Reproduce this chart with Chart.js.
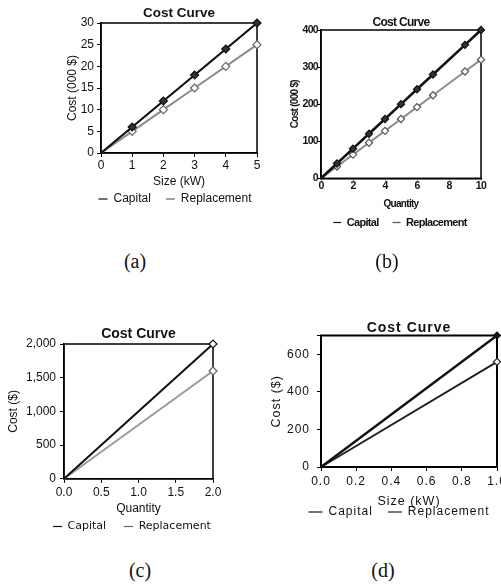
<!DOCTYPE html>
<html>
<head>
<meta charset="utf-8">
<script src="https://cdn.jsdelivr.net/npm/chart.js@4.4.1/dist/chart.umd.min.js"></script>
<style>
  body { margin: 0; background: #fff; }
  #page { position: relative; width: 501px; height: 586px; overflow: hidden; background: #fff; }
  canvas { position: absolute; }
  .cap { position: absolute; width: 40px; text-align: center; font-family: "Liberation Serif", "Times New Roman", serif; font-size: 20px; line-height: 20px; color: #111; }
</style>
</head>
<body>
<div id="page">
  <canvas id="chartA" width="270" height="215" style="left:40px;top:0px"></canvas>
  <canvas id="chartB" width="230" height="238" style="left:285px;top:0px"></canvas>
  <canvas id="chartC" width="264" height="222" style="left:0px;top:320px"></canvas>
  <canvas id="chartD" width="274" height="208" style="left:262px;top:320px"></canvas>
  <div class="cap" style="left:115px;top:251px">(a)</div>
  <div class="cap" style="left:367px;top:251px">(b)</div>
  <div class="cap" style="left:120px;top:560px">(c)</div>
  <div class="cap" style="left:363px;top:560px">(d)</div>
</div>
<script>
//Chart values
const sizeA = [0, 1, 2, 3, 4, 5];
const capitalA = [0, 6, 12, 18, 24, 30];
const replacementA = [0, 5, 10, 15, 20, 25];

const quantityB = [0, 1, 2, 3, 4, 5, 6, 7, 9, 10];
const capitalB = [0, 40, 80, 120, 160, 200, 240, 280, 360, 400];
const replacementB = [0, 32, 64, 96, 128, 160, 192, 224, 288, 320];

const quantityC = [0, 2];
const capitalC = [0, 2000];
const replacementC = [0, 1600];

const sizeD = [0, 1];
const capitalD = [0, 700];
const replacementD = [0, 560];

const chartTitle = 'Cost Curve';
const seriesNames = ['Capital', 'Replacement'];

const arial = '"Liberation Sans", Arial, sans-serif';
const wide = '"DejaVu Sans", Verdana, sans-serif';

//Draws the closed box round the plot area
const frameBox = {
    id: 'frameBox',
    beforeDatasetsDraw(chart, args, opts) {
        const a = chart.chartArea;
        const c = chart.ctx;
        c.save();
        c.strokeStyle = opts.color || '#000';
        c.lineWidth = opts.width || 1.5;
        c.strokeRect(a.left, a.top, a.right - a.left, a.bottom - a.top);
        c.restore();
    }
};

//Squeezes or spreads the letters, the scans use narrow and spaced faces
const letterGap = {
    id: 'letterGap',
    beforeLayout(chart, args, opts) { chart.ctx.letterSpacing = (opts.px || 0) + 'px'; },
    beforeDraw(chart, args, opts) { chart.ctx.letterSpacing = (opts.px || 0) + 'px'; }
};

//Builds one "Cost Curve" chart
function costChart(canvasId, xs, capital, replacement, s) {
    const points = ys => xs.map((x, i) => ({ x: x, y: ys[i] }));
    const radius = xs.map(x => (x === 0 ? 0 : s.marker));

    const config = {
        type: 'line',
        data: {
            datasets: [
                {
                    label: seriesNames[0],
                    data: points(capital),
                    borderColor: s.capColor,
                    borderWidth: s.capWidth,
                    pointStyle: 'rectRot',
                    pointRadius: radius,
                    pointBackgroundColor: s.capFill,
                    pointBorderColor: s.capColor,
                    pointBorderWidth: 1.2,
                    clip: false
                },
                {
                    label: seriesNames[1],
                    data: points(replacement),
                    borderColor: s.repColor,
                    borderWidth: s.repWidth,
                    pointStyle: 'rectRot',
                    pointRadius: radius,
                    pointBackgroundColor: '#fff',
                    pointBorderColor: s.repMarker,
                    pointBorderWidth: 1.2,
                    clip: false
                }
            ]
        },
        options: {
            responsive: false,
            animation: false,
            layout: { padding: 0 },
            plugins: {
                frameBox: { color: '#000', width: s.frame },
                letterGap: { px: s.spacing },
                tooltip: { enabled: false },
                title: {
                    display: true,
                    fullSize: false,
                    text: chartTitle,
                    color: '#111',
                    font: { family: s.family, size: s.titleSize, weight: 'bold', lineHeight: s.titleLH },
                    padding: { top: s.titleTop, bottom: s.titleBottom }
                },
                legend: {
                    position: 'bottom',
                    labels: {
                        usePointStyle: true,
                        pointStyle: 'line',
                        pointStyleWidth: s.legendLine,
                        padding: s.legendPad,
                        color: '#111',
                        font: { family: s.legendFamily || s.family, size: s.legendSize, weight: s.weight }
                    }
                }
            },
            scales: {
                x: {
                    type: 'linear',
                    min: xs[0],
                    max: xs[xs.length - 1],
                    //fixed band height, and the free room right of the plot
                    afterFit(scale) { scale.height = s.xAxisH; scale.paddingLeft = 0; scale.paddingRight = s.padRight; },
                    grid: { drawOnChartArea: false, drawTicks: true, tickLength: s.xTick, color: '#000' },
                    border: { color: '#000', width: s.frame },
                    ticks: {
                        stepSize: s.xStep,
                        padding: s.xTickPad,
                        maxRotation: 0,
                        color: '#111',
                        font: { family: s.family, size: s.tickSize, weight: s.weight, lineHeight: s.tickLH },
                        callback: v => (s.xFixed ? v.toFixed(s.xFixed) : v)
                    },
                    title: {
                        display: true,
                        text: s.xTitle,
                        color: '#111',
                        font: { family: s.family, size: s.axisSize, weight: s.weight, lineHeight: s.axisLH },
                        padding: { top: 0, bottom: s.xTitleBottom }
                    }
                },
                y: {
                    min: 0,
                    max: s.yMax,
                    afterFit(scale) { scale.width = s.yAxisW; scale.paddingTop = 0; scale.paddingBottom = 0; },
                    grid: { drawOnChartArea: false, drawTicks: true, tickLength: s.yTick, color: '#000' },
                    border: { color: '#000', width: s.frame },
                    ticks: {
                        stepSize: s.yStep,
                        padding: s.yTickPad,
                        color: '#111',
                        font: { family: s.family, size: s.tickSize, weight: s.weight },
                        callback: v => (v % s.yStep === 0 ? v.toLocaleString('en-US') : '')
                    },
                    title: {
                        display: true,
                        text: s.yTitle,
                        color: '#111',
                        font: { family: s.family, size: s.axisSize, weight: s.weight },
                        padding: { top: s.yTitlePad, bottom: 0 }
                    }
                }
            }
        },
        plugins: [letterGap, frameBox]
    };

    new Chart(document.getElementById(canvasId).getContext('2d'), config);
}

//(a)
costChart('chartA', sizeA, capitalA, replacementA, {
    capColor: '#111', capFill: '#333', capWidth: 2.2, repColor: '#8c8c8c', repMarker: '#666', repWidth: 2, marker: 4, frame: 1.5,
    padRight: 53, yAxisW: 61, xAxisH: 25, family: arial, weight: 'normal', spacing: 0,
    titleSize: 13.5, titleLH: 1.2, titleTop: 5, titleBottom: 1.8,
    legendSize: 12, legendPad: 15, legendLine: 9,
    tickSize: 12, tickLH: 1.2, axisSize: 12, axisLH: 1.2,
    xStep: 1, xTick: 4, xTickPad: 1.5, xFixed: 0, xTitle: 'Size (kW)', xTitleBottom: -10.9,
    yMax: 30, yStep: 5, yTick: 4, yTickPad: 3, yTitle: 'Cost (000 $)', yTitlePad: 25.5
});

//(b)
costChart('chartB', quantityB, capitalB, replacementB, {
    capColor: '#111', capFill: '#333', capWidth: 2.6, repColor: '#8c8c8c', repMarker: '#555', repWidth: 2, marker: 3.6, frame: 1.5,
    padRight: 34, yAxisW: 36, xAxisH: 24.7, family: arial, weight: 'bold', spacing: -0.7,
    titleSize: 12, titleLH: 1.2, titleTop: 15.6, titleBottom: 0,
    legendSize: 11, legendPad: 14, legendLine: 8,
    tickSize: 10.5, tickLH: 1, axisSize: 10, axisLH: 1.2,
    xStep: 2, xTick: 2, xTickPad: 0.5, xFixed: 0, xTitle: 'Quantity', xTitleBottom: -7.5,
    yMax: 400, yStep: 100, yTick: 3, yTickPad: 0, yTitle: 'Cost (000 $)', yTitlePad: 4.7
});

//(c)
costChart('chartC', quantityC, capitalC, replacementC, {
    capColor: '#111', capFill: '#fff', capWidth: 2, repColor: '#9a9a9a', repMarker: '#666', repWidth: 2, marker: 4, frame: 1.5,
    padRight: 51, yAxisW: 64, xAxisH: 24.2, family: arial, weight: 'normal', spacing: 0, legendFamily: wide,
    titleSize: 14, titleLH: 1.2, titleTop: 5.6, titleBottom: 1.6,
    legendSize: 11, legendPad: 18, legendLine: 9,
    tickSize: 12, tickLH: 1.2, axisSize: 12, axisLH: 1.2,
    xStep: 0.5, xTick: 4, xTickPad: 3, xFixed: 1, xTitle: 'Quantity', xTitleBottom: -13.3,
    yMax: 2000, yStep: 500, yTick: 4, yTickPad: 4, yTitle: 'Cost ($)', yTitlePad: 6.1
});

//(d)
costChart('chartD', sizeD, capitalD, replacementD, {
    capColor: '#111', capFill: '#111', capWidth: 2.4, repColor: '#222', repMarker: '#222', repWidth: 2, marker: 3.5, frame: 2,
    padRight: 39, yAxisW: 59, xAxisH: 24, family: arial, weight: 'normal', spacing: 1,
    titleSize: 14, titleLH: 1, titleTop: 1.5, titleBottom: 0,
    legendSize: 12, legendPad: 15, legendLine: 14,
    tickSize: 12, tickLH: 1.2, axisSize: 12.5, axisLH: 1,
    xStep: 0.2, xTick: 4, xTickPad: 3.8, xFixed: 1, xTitle: 'Size (kW)', xTitleBottom: -17.2,
    yMax: 700, yStep: 200, yTick: 4, yTickPad: 7, yTitle: 'Cost ($)', yTitlePad: 7.4
});
</script>
</body>
</html>
